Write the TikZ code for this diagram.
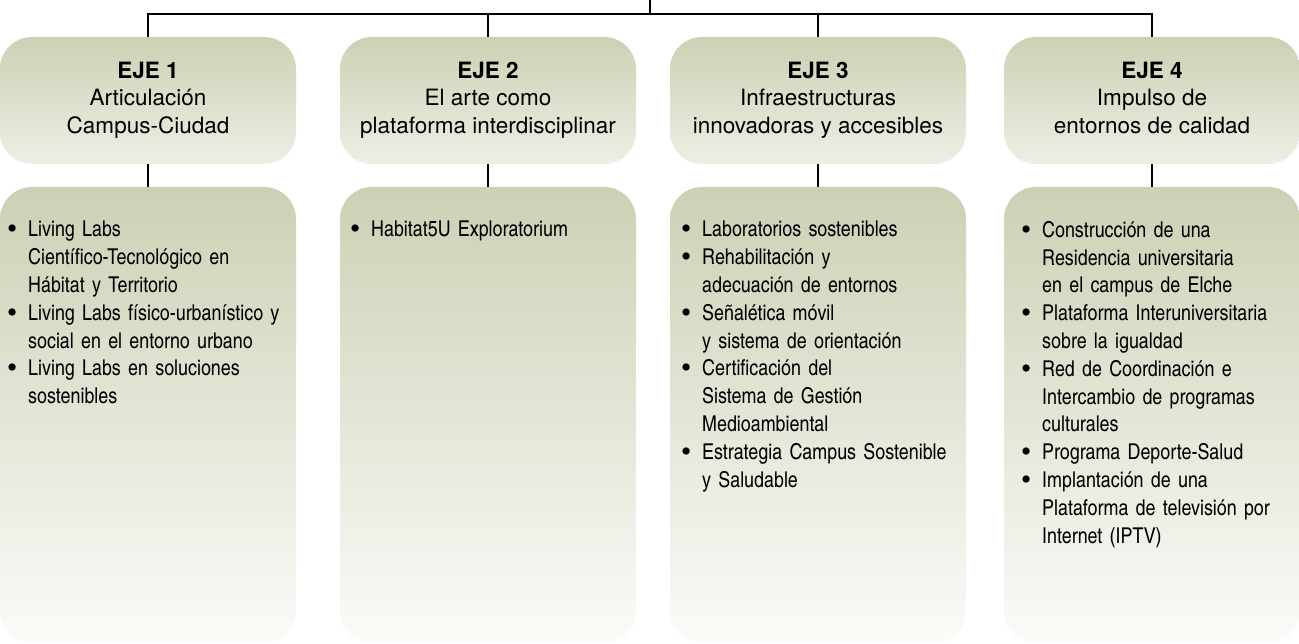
\documentclass[tikz,border=0pt]{standalone}
\usepackage{fontspec}
\setmainfont{TeX Gyre Heros}
\newfontfamily\cnfont{texgyreheroscn}[Extension=.otf,UprightFont=*-regular,BoldFont=*-bold,WordSpace=0.8]
\definecolor{verdeosc}{RGB}{203,209,180}
\definecolor{verdeclaro}{RGB}{237,239,229}
\definecolor{blanco}{RGB}{251,251,249}
\newcommand{\vineta}{\leavevmode\llap{\raisebox{-1.8pt}{\rmfamily\fontsize{29}{0}\selectfont\textbullet}\hspace{11pt}}}

\begin{document}
\begin{tikzpicture}[x=1pt, y=-1pt,
        eje/.style={rounded corners=32pt, minimum width=296pt, minimum height=127pt,
          inner sep=0pt, top color=verdeosc, bottom color=verdeclaro, align=center,
          font=\fontsize{22.5}{27.5}\selectfont},
        lista/.style={rounded corners=32pt, minimum width=296pt, minimum height=456pt,
          inner sep=0pt, top color=verdeosc, bottom color=blanco},
        items/.style={anchor=north west, align=left, text width=280pt, inner sep=0pt,
          font=\cnfont\fontsize{21.8}{27.8}\selectfont},
        linea/.style={draw=black, line width=1.7pt}]
        \useasboundingbox (0,0) rectangle (1299,644);
        \coordinate (raiz) at (650,0);
        \coordinate (barra) at (650,14);
        \node (e1) at (148,100.5) [eje] {\strut\textbf{EJE 1}\\Articulación\\Campus-Ciudad\strut};
        \node (e2) at (488,100.5) [eje] {\strut\textbf{EJE 2}\\El arte como\\plataforma interdisciplinar\strut};
        \node (e3) at (818,100.5) [eje] {\strut\textbf{EJE 3}\\Infraestructuras\\innovadoras y accesibles\strut};
        \node (e4) at (1152,100.5) [eje] {\strut\textbf{EJE 4}\\Impulso de\\entornos de calidad\strut};
        \node (l1) at (148,415) [lista] {};
        \node (l2) at (488,415) [lista] {};
        \node (l3) at (818,415) [lista] {};
        \node (l4) at (1152,415) [lista] {};
        \node (t1) at (28,221) [items] {\vineta Living Labs\\Científico-Tecnológico en\\Hábitat y Territorio\\
          \vineta Living Labs físico-urbanístico y\\social en el entorno urbano\\
          \vineta Living Labs en soluciones\\sostenibles};
        \node (t2) at (371,221) [items] {\vineta Habitat5U Exploratorium};
        \node (t3) at (702,221) [items] {\vineta Laboratorios sostenibles\\
          \vineta Rehabilitación y\\adecuación de entornos\\
          \vineta Señalética móvil\\y sistema de orientación\\
          \vineta Certificación del\\Sistema de Gestión\\Medioambiental\\
          \vineta Estrategia Campus Sostenible\\y Saludable};
        \node (t4) at (1042,221) [items] {\vineta Construcción de una\\Residencia universitaria\\en el campus de Elche\\
          \vineta Plataforma Interuniversitaria\\sobre la igualdad\\
          \vineta Red de Coordinación e\\Intercambio de programas\\culturales\\
          \vineta Programa Deporte-Salud\\
          \vineta Implantación de una\\Plataforma de televisión por\\Internet (IPTV)};
        \draw[linea] (raiz) -- (barra);
        \draw[linea] (e1.north) -- (e1.north |- barra) -- (e4.north |- barra) -- (e4.north);
        \draw[linea] (e2.north) -- (e2.north |- barra);
        \draw[linea] (e3.north) -- (e3.north |- barra);
        \draw[linea] (e1.south) -- (l1.north);
        \draw[linea] (e2.south) -- (l2.north);
        \draw[linea] (e3.south) -- (l3.north);
        \draw[linea] (e4.south) -- (l4.north);
\end{tikzpicture}
\end{document}
